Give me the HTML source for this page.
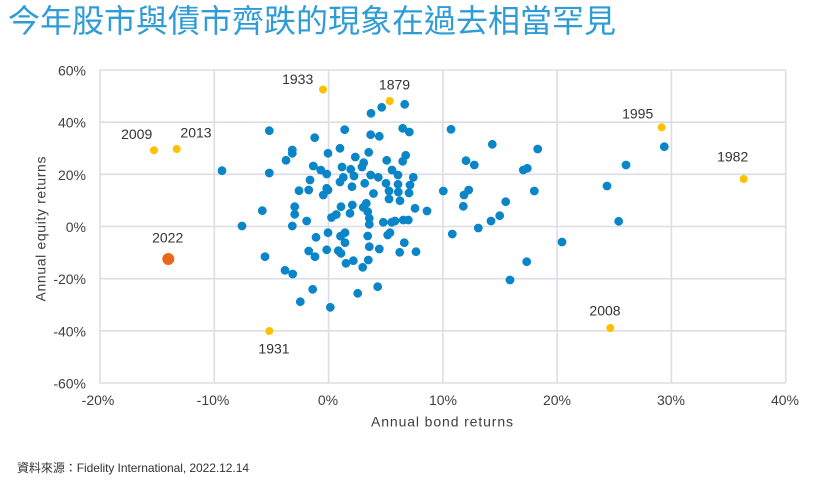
<!DOCTYPE html>
<html><head><meta charset="utf-8"><style>
html,body{margin:0;padding:0;background:#fff;}
body{width:834px;height:492px;position:relative;overflow:hidden;}
.title{position:absolute;left:8px;top:5px;font-family:"Liberation Sans","Noto Sans CJK TC",sans-serif;font-size:32px;line-height:32px;color:#2f9cd6;white-space:nowrap;}
svg{position:absolute;left:0;top:0;}
</style></head><body>
<div class="title">今年股市與債市齊跌的現象在過去相當罕見</div>
<svg width="834" height="492" viewBox="0 0 834 492" xmlns="http://www.w3.org/2000/svg">
<path stroke="#dcdde6" stroke-width="1.6" fill="none" d="M100 70V383M214.3 70V383M328.6 70V383M442.9 70V383M557.1 70V383M671.4 70V383M785.7 70V383M100 70H785.7M100 122.2H785.7M100 174.3H785.7M100 226.5H785.7M100 278.7H785.7M100 330.8H785.7M100 383H785.7"/>
<g font-family="Liberation Sans, sans-serif" font-size="14" fill="#404040">
<g text-anchor="end">
<text x="86" y="75.5">60%</text>
<text x="86" y="127.7">40%</text>
<text x="86" y="179.8">20%</text>
<text x="86" y="232">0%</text>
<text x="86" y="284.2">-20%</text>
<text x="86" y="336.3">-40%</text>
<text x="86" y="388.5">-60%</text>
</g>
<g text-anchor="middle">
<text x="98" y="405">-20%</text>
<text x="213" y="405">-10%</text>
<text x="328" y="405">0%</text>
<text x="443" y="405">10%</text>
<text x="557" y="405">20%</text>
<text x="671" y="405">30%</text>
<text x="785" y="405">40%</text>
</g>
<text x="371" y="426.5" textLength="142" lengthAdjust="spacing">Annual bond returns</text>
<text transform="translate(45.5,229) rotate(-90)" text-anchor="middle" textLength="145" lengthAdjust="spacing">Annual equity returns</text>
</g>
<path fill="none" stroke="#0a86c8" stroke-width="8.8" stroke-linecap="round" d="M269.3 130.7h0M222 170.7h0M269.3 173h0M292.3 150h0M292.3 153.3h0M286 160.3h0M314.7 137.7h0M328 153.3h0M313.3 166h0M320.7 170h0M326.7 174h0M310 180h0M299 190.7h0M308.7 190h0M326.7 188.3h0M328 190h0M323.3 195h0M340 148.3h0M340 182h0M342 167h0M262.3 210.7h0M294.7 206.7h0M294.7 214.3h0M306.7 221h0M242 226h0M292.3 226h0M331.5 217.5h0M336.3 214.5h0M341 206.7h0M328 232.7h0M316 237.3h0M340.5 236.2h0M308.7 251h0M315 256.7h0M326.7 249.8h0M338.3 250.7h0M341 253.3h0M265 256.7h0M285 270.3h0M292.7 274h0M312.7 289.3h0M300.3 301.7h0M330.3 307.3h0M381.7 107.3h0M371 113.3h0M404.7 104.3h0M344.7 129.7h0M402.7 128.3h0M409.3 132h0M370.7 134.7h0M379.3 136.3h0M368.7 152.3h0M355.3 157h0M405.7 155.3h0M402.7 161.3h0M386.7 160.3h0M363.7 162.7h0M362 167h0M350.7 169.3h0M392 170h0M354 176h0M343.3 177.3h0M370.7 175h0M378.3 177.3h0M398 175h0M413.3 177.3h0M364.7 183.3h0M352 186.7h0M386 183.3h0M398 184.3h0M410 185h0M373.5 193.5h0M389 191h0M398.3 192h0M409 193h0M389 199h0M443.3 191h0M451 129.3h0M400 200.7h0M352.3 205h0M366.3 203.3h0M363.3 207.3h0M415 208.3h0M427 211h0M350 213.3h0M367.7 211.7h0M369.3 218.3h0M369.3 224.3h0M383.3 222.3h0M391.7 222.3h0M395 221h0M403.3 220h0M408.3 220h0M345 232.7h0M367.7 236h0M390 232.7h0M387.7 235h0M452.3 234h0M345 242.7h0M369.3 246.7h0M379.3 249h0M404.3 242.7h0M399.7 252.3h0M416 251.7h0M346 263.3h0M353.3 260.7h0M368.3 260h0M362.7 267.3h0M377.7 286.7h0M357.7 293.3h0M492.3 144.3h0M537.7 149h0M466 160.7h0M474.3 165h0M523.3 170h0M527.3 168.3h0M464 195h0M468.7 190h0M534.3 191h0M505.7 201.7h0M463.3 206.3h0M499.7 215.7h0M491 221h0M478.3 228h0M562 242h0M526.7 261.7h0M510 280h0M664.3 146.7h0M626 165h0M607 186h0M618.7 221.3h0"/>
<path fill="none" stroke="#ffc000" stroke-width="8" stroke-linecap="round" d="M323 89.5h0M389.7 101h0M154 150.3h0M176.7 149h0M269.3 331h0M661.7 127.3h0M743.7 179h0M610.3 328h0"/>
<path fill="none" stroke="#e9681c" stroke-width="12" stroke-linecap="round" d="M168.3 259h0"/>
<g font-family="Liberation Sans, sans-serif" font-size="14" fill="#333" text-anchor="middle">
<text x="297.7" y="84">1933</text>
<text x="394.5" y="89.5">1879</text>
<text x="136.7" y="139">2009</text>
<text x="196" y="137.3">2013</text>
<text x="167.7" y="242.3">2022</text>
<text x="274" y="353.3">1931</text>
<text x="637.7" y="118.3">1995</text>
<text x="732.7" y="161.7">1982</text>
<text x="605" y="315.7">2008</text>
</g>
<text x="17" y="472" font-family="Liberation Sans, Noto Sans CJK TC, sans-serif" font-size="12" fill="#333" textLength="232" lengthAdjust="spacing">資料來源：Fidelity International,  2022.12.14</text>
</svg>
</body></html>
